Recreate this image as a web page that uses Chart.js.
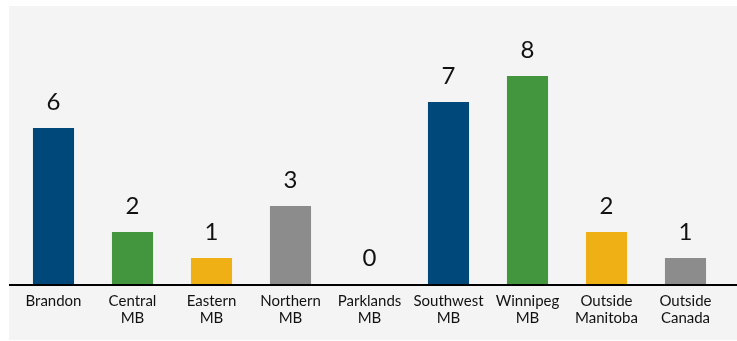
<!DOCTYPE html>
<html>
<head>
<meta charset="utf-8">
<script src="https://cdn.jsdelivr.net/npm/chart.js@4/dist/chart.umd.min.js"></script>
<style>
  html, body { margin: 0; padding: 0; background: #fff; }
  #panel { position: absolute; left: 9px; top: 6px; width: 728px; height: 334px; background: #f4f4f4; }
</style>
</head>
<body>
<div id="panel"><canvas id="chart" width="728" height="334"></canvas></div>
<script>
'use strict'

const regions = [
    'Brandon', ['Central', 'MB'], ['Eastern', 'MB'], ['Northern', 'MB'], ['Parklands', 'MB'],
    ['Southwest', 'MB'], ['Winnipeg', 'MB'], ['Outside', 'Manitoba'], ['Outside', 'Canada']
];
const counts = [6, 2, 1, 3, 0, 7, 8, 2, 1];
const barColors = ['#00477a', '#43963d', '#efb016', '#8c8c8c', '#00477a', '#00477a', '#43963d', '#efb016', '#8c8c8c'];

// value numbers above bars + axis line across the whole panel
const valueLabels = {
    id: 'valueLabels',
    afterDatasetsDraw(chart) {
        const ctx = chart.ctx;
        const meta = chart.getDatasetMeta(0);
        ctx.save();
        ctx.strokeStyle = '#000';
        ctx.lineWidth = 2;
        ctx.beginPath();
        ctx.moveTo(0, chart.chartArea.bottom + 1);
        ctx.lineTo(chart.width, chart.chartArea.bottom + 1);
        ctx.stroke();

        ctx.font = '24px Lato';
        ctx.fillStyle = '#111';
        ctx.textAlign = 'center';
        ctx.textBaseline = 'alphabetic';
        meta.data.forEach((bar, i) => {
            ctx.fillText(String(counts[i]), bar.x, bar.y - 18);
        });
        ctx.restore();
    }
};

new Chart(document.getElementById('chart'), {
    type: 'bar',
    data: {
        labels: regions,
        datasets: [{
            data: counts,
            backgroundColor: barColors,
            barPercentage: 0.52,
            categoryPercentage: 1
        }]
    },
    options: {
        responsive: false,
        animation: false,
        layout: { padding: { left: 5, right: 12, top: 18, bottom: 13 } },
        plugins: { legend: { display: false }, tooltip: { enabled: false } },
        scales: {
            x: {
                grid: { display: false },
                border: { display: false },
                ticks: {
                    color: '#111',
                    font: { family: 'Lato', size: 15, lineHeight: 1.1 },
                    maxRotation: 0,
                    autoSkip: false,
                    padding: 1
                }
            },
            y: {
                display: false,
                min: 0,
                max: 10
            }
        }
    },
    plugins: [valueLabels]
});
</script>
</body>
</html>
